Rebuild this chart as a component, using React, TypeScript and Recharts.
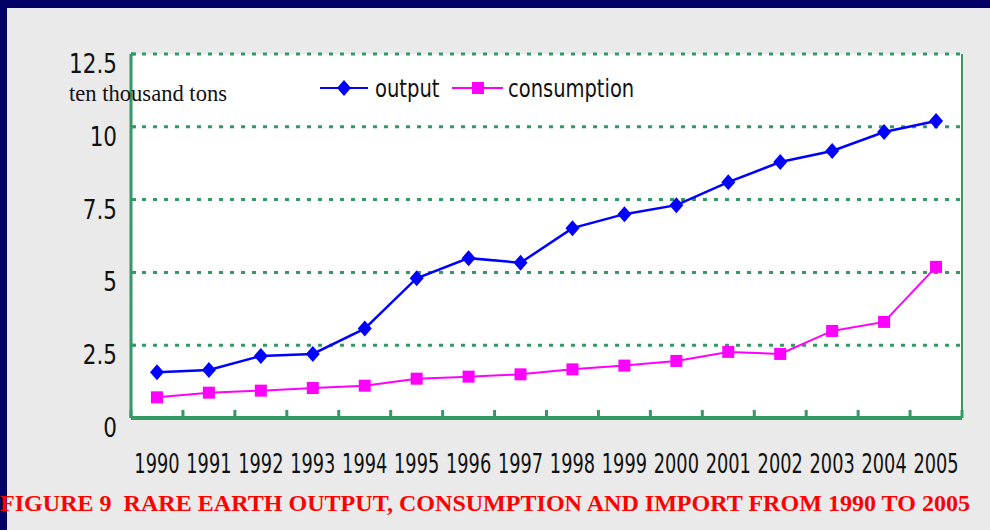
import React from "react";
import { LineChart, Line, XAxis, YAxis, CartesianGrid, Legend, ReferenceLine } from "recharts";

const YEARS = [1990, 1991, 1992, 1993, 1994, 1995, 1996, 1997, 1998, 1999, 2000, 2001, 2002, 2003, 2004, 2005];
const OUTPUT = [1.57, 1.65, 2.13, 2.2, 3.07, 4.8, 5.49, 5.33, 6.52, 7.0, 7.31, 8.1, 8.79, 9.17, 9.82, 10.2];
const CONSUMPTION = [0.71, 0.87, 0.94, 1.03, 1.11, 1.35, 1.42, 1.5, 1.67, 1.8, 1.96, 2.27, 2.2, 2.99, 3.3, 5.19];
const Y_TICKS = [0, 2.5, 5, 7.5, 10, 12.5];

const data = YEARS.map((year, i) => ({ year, output: OUTPUT[i], consumption: CONSUMPTION[i] }));
// category boundaries: tick marks sit here, year labels sit half a band to the right
const BOUNDS = [YEARS[0] - 0.5, ...YEARS.map((y) => y + 0.5)];
const DOMAIN: [number, number] = [BOUNDS[0], BOUNDS[BOUNDS.length - 1]];

const GREEN = "#339966";
const NAVY = "#000066";
const NARROW = "'Liberation Sans Narrow', 'DejaVu Sans Condensed', 'Arial Narrow', sans-serif";
const SERIF = "'Liberation Serif', 'Times New Roman', serif";

function Diamond(props: any) {
  const { cx, cy, index } = props;
  return <path key={`d-${index}`} d={`M${cx},${cy - 8} L${cx + 7},${cy} L${cx},${cy + 8} L${cx - 7},${cy} Z`} fill="#0000ff" />;
}

function Square(props: any) {
  const { cx, cy, index } = props;
  return <rect key={`s-${index}`} x={cx - 6} y={cy - 6} width={12} height={12} fill="#ff00ff" />;
}

// squeezed text, to stand in for the narrow sans of the original
function Narrow({ x, y, sx, size, anchor = "start", children }: any) {
  return (
    <g transform={`translate(${x},${y}) scale(${sx},1)`}>
      <text x={0} y={0} textAnchor={anchor} fontFamily={NARROW} fontSize={size} fill="#111">
        {children}
      </text>
    </g>
  );
}

function YTick(props: any) {
  const { x, y, payload } = props;
  return (
    <Narrow x={x} y={y + 19} sx={0.92} size={26} anchor="end">
      {payload.value}
    </Narrow>
  );
}

function XTick(props: any) {
  const { x, y, index, width } = props;
  if (index >= YEARS.length) return <g />;
  const half = (Number(width) || 831) / YEARS.length / 2;
  return (
    <Narrow x={x + half} y={y + 61} sx={0.76} size={26} anchor="middle">
      {YEARS[index]}
    </Narrow>
  );
}

function LegendBox() {
  return (
    <svg width={330} height={28} style={{ display: "block", overflow: "visible" }}>
      <line x1={2} y1={12} x2={50} y2={12} stroke="#0000ff" strokeWidth={2} />
      <path d="M26,4 L33,12 L26,20 L19,12 Z" fill="#0000ff" />
      <Narrow x={57} y={21} sx={0.87} size={25}>output</Narrow>
      <line x1={134} y1={12} x2={185} y2={12} stroke="#ff00ff" strokeWidth={2} />
      <rect x={154} y={6} width={12} height={12} fill="#ff00ff" />
      <Narrow x={190} y={21} sx={0.867} size={25}>consumption</Narrow>
    </svg>
  );
}

export default function App() {
  return (
    <div style={{ position: "fixed", left: 0, top: 0, width: 990, height: 530, background: "#eaeaea", overflow: "hidden" }}>
      <div style={{ position: "absolute", left: 0, top: 0, width: 990, height: 8, background: NAVY }} />
      <div style={{ position: "absolute", left: 0, top: 0, width: 7, height: 530, background: NAVY }} />
      <div style={{ position: "absolute", left: 0, top: 0 }}>
        <LineChart width={990} height={530} data={data} margin={{ top: 54, right: 28, left: 0, bottom: 0 }}>
          <CartesianGrid
            horizontal
            vertical={false}
            fill="#ffffff"
            stroke={GREEN}
            strokeWidth={3}
            strokeDasharray="4 7"
          />
          <XAxis
            type="number"
            dataKey="year"
            domain={DOMAIN}
            ticks={BOUNDS}
            height={112}
            interval={0}
            axisLine={{ stroke: GREEN, strokeWidth: 4 }}
            tickSize={-8}
            tickLine={{ stroke: GREEN, strokeWidth: 3 }}
            tick={<XTick />}
          />
          <YAxis
            domain={[0, 12.5]}
            ticks={Y_TICKS}
            width={131}
            interval={0}
            axisLine={{ stroke: GREEN, strokeWidth: 3 }}
            tickSize={-5}
            tickMargin={19}
            tickLine={{ stroke: GREEN, strokeWidth: 3 }}
            tick={<YTick />}
          />
          <ReferenceLine x={DOMAIN[1]} stroke={GREEN} strokeWidth={2} />
          <Legend
            layout="horizontal"
            verticalAlign="middle"
            align="center"
            content={<LegendBox />}
            wrapperStyle={{ top: 76, left: 318, width: 330 }}
          />
          <Line
            dataKey="output"
            stroke="#0000ff"
            strokeWidth={2.5}
            dot={<Diamond />}
            activeDot={false}
            isAnimationActive={false}
          />
          <Line
            dataKey="consumption"
            stroke="#ff00ff"
            strokeWidth={2}
            dot={<Square />}
            activeDot={false}
            isAnimationActive={false}
          />
        </LineChart>
      </div>
      <svg width={990} height={530} style={{ position: "absolute", left: 0, top: 0, pointerEvents: "none" }}>
        <text x={69} y={101} fontFamily={SERIF} fontSize={24} textLength={158} lengthAdjust="spacingAndGlyphs" fill="#111">
          ten thousand tons
        </text>
        <text
          x={0}
          y={511}
          fontFamily={SERIF}
          fontSize={24}
          fontWeight="bold"
          textLength={970}
          lengthAdjust="spacingAndGlyphs"
          fill="#ff0000"
          style={{ whiteSpace: "pre" }}
        >
          FIGURE 9  RARE EARTH OUTPUT, CONSUMPTION AND IMPORT FROM 1990 TO 2005
        </text>
      </svg>
    </div>
  );
}
